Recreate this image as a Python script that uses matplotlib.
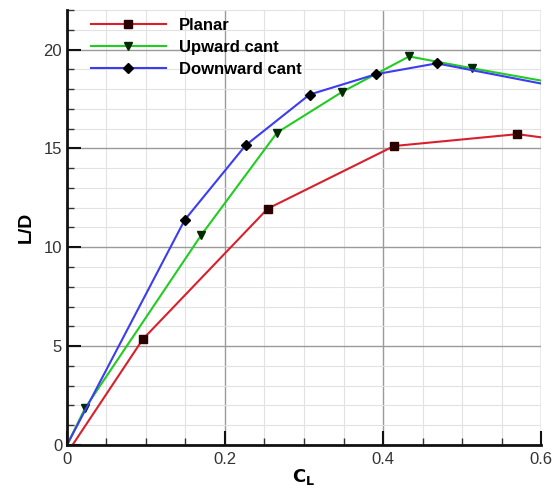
import numpy as np
import matplotlib
matplotlib.use('Agg')
import matplotlib.pyplot as plt
from matplotlib.ticker import MultipleLocator

plt.rcParams['font.family'] = ['Liberation Sans', 'DejaVu Sans']

# data
planar_cl = [0.007, 0.096, 0.254, 0.414, 0.570, 0.600]
planar_ld = [0.0, 5.35, 11.95, 15.12, 15.72, 15.56]

up_cl = [0.0, 0.023, 0.170, 0.266, 0.348, 0.433, 0.513, 0.600]
up_ld = [0.0, 1.87, 10.62, 15.80, 17.85, 19.65, 19.05, 18.43]

down_cl = [0.0, 0.149, 0.226, 0.307, 0.391, 0.468, 0.600]
down_ld = [0.0, 11.38, 15.15, 17.72, 18.75, 19.30, 18.28]

fig = plt.figure(figsize=(5.55, 4.91), dpi=100)
ax = fig.add_axes([0.1207, 0.0937, 0.8541, 0.886])

ax.plot(planar_cl, planar_ld, color='#d8202c', lw=1.5, marker='s', ms=5.5,
        mfc='#2a0000', mec='#2a0000', markevery=[1, 2, 3, 4], label='Planar')
ax.plot(up_cl, up_ld, color='#22cc22', lw=1.5, marker='v', ms=6,
        mfc='#002a00', mec='#002a00', markevery=[1, 2, 3, 4, 5, 6], label='Upward cant')
ax.plot(down_cl, down_ld, color='#3c3cf0', lw=1.5, marker='D', ms=5.5,
        mfc='black', mec='black', markevery=[1, 2, 3, 4, 5], label='Downward cant')

ax.set_xlim(0, 0.6)
ax.set_ylim(0, 22)
ax.xaxis.set_major_locator(MultipleLocator(0.2))
ax.xaxis.set_minor_locator(MultipleLocator(0.05))
ax.yaxis.set_major_locator(MultipleLocator(5))
ax.yaxis.set_minor_locator(MultipleLocator(1))
ax.set_xticks([0, 0.2, 0.4, 0.6], ['0', '0.2', '0.4', '0.6'])

ax.grid(which='major', color='#9a9a9a', lw=1.0)
ax.grid(which='minor', color='#e2e2e2', lw=0.8)
ax.set_axisbelow(True)

for s in ['top', 'right']:
    ax.spines[s].set_visible(False)
for s in ['left', 'bottom']:
    ax.spines[s].set_linewidth(2)
    ax.spines[s].set_color('#111111')

ax.tick_params(which='major', direction='in', length=10, width=1.5,
               labelsize=12, colors='#111111', labelcolor='#333333')
ax.tick_params(which='minor', direction='in', length=5, width=1, colors='#333333')
ax.tick_params(axis='x', pad=5)

ax.set_xlabel(r'$\mathbf{C_L}$', fontsize=13, labelpad=0)
ax.set_ylabel('L/D', fontsize=14, fontweight='bold', labelpad=6)

leg = ax.legend(loc='upper left', frameon=False, fontsize=12, handlelength=4.5,
                borderaxespad=0.3, handletextpad=0.8, labelspacing=0.42,
                bbox_to_anchor=(0.025, 1.008))
for t in leg.get_texts():
    t.set_fontweight('bold')

fig.savefig('out.png', dpi=100)
